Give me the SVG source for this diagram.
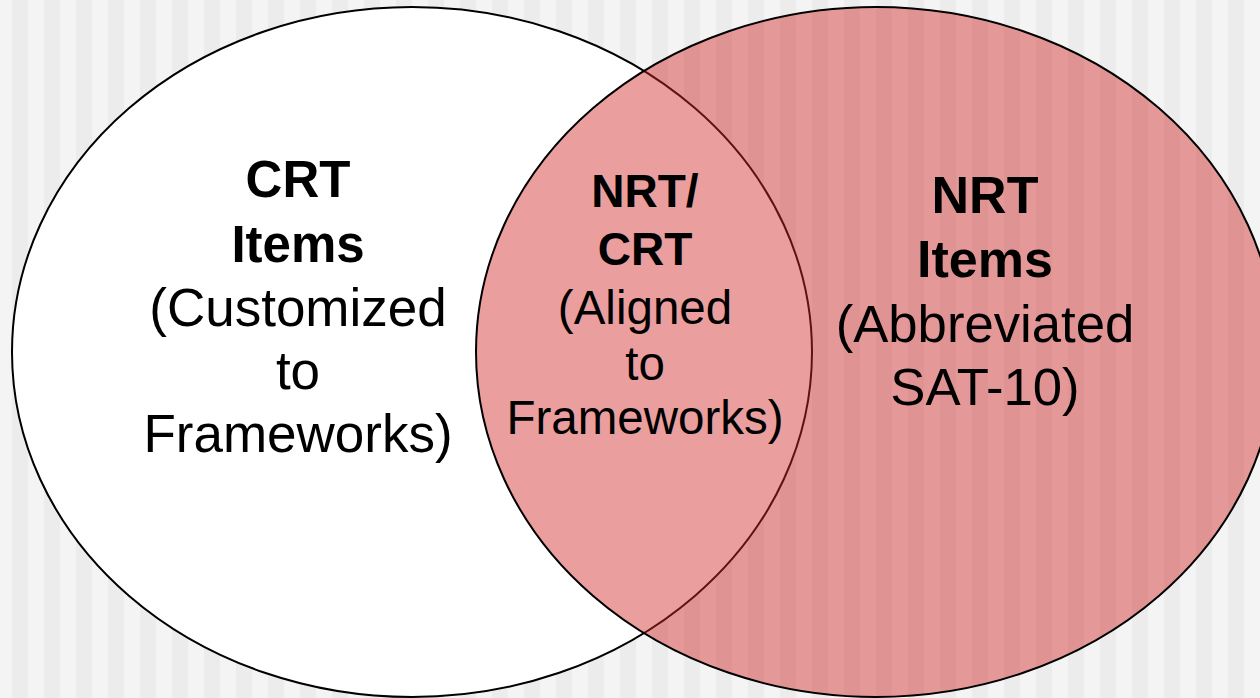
<svg xmlns="http://www.w3.org/2000/svg" width="1260" height="698" viewBox="0 0 1260 698">
<defs>
<pattern id="stripes" x="12" y="0" width="32" height="698" patternUnits="userSpaceOnUse">
<rect x="0" y="0" width="32" height="698" fill="#f4f4f4"/>
<rect x="0" y="0" width="16" height="698" fill="#ececec"/>
</pattern>
<style>
.t{font-family:"Liberation Sans",Arial,sans-serif;fill:#000;text-anchor:middle}
.b{font-weight:bold}
</style>
</defs>
<rect width="1260" height="698" fill="url(#stripes)"/>
<g id="crt">
<ellipse cx="412" cy="352" rx="400" ry="345" fill="#ffffff" stroke="#000" stroke-width="2"/>
</g>
<g id="nrt">
<ellipse cx="876" cy="352" rx="400" ry="345" fill="#d22828" fill-opacity="0.45" stroke="#000" stroke-width="2"/>
</g>
<g id="crt-label">
<text x="298" y="197" class="t b" font-size="51">CRT</text>
<text x="298" y="262" class="t b" font-size="51">Items</text>
<text x="298" y="326" class="t" font-size="53">(Customized</text>
<text x="298" y="389" class="t" font-size="53">to</text>
<text x="298" y="452" class="t" font-size="53">Frameworks)</text>
</g>
<g id="overlap-label">
<text x="645" y="207" class="t b" font-size="46">NRT/</text>
<text x="645" y="265" class="t b" font-size="46">CRT</text>
<text x="645" y="324" class="t" font-size="47.5">(Aligned</text>
<text x="645" y="380" class="t" font-size="47.5">to</text>
<text x="645" y="434" class="t" font-size="47.5">Frameworks)</text>
</g>
<g id="nrt-label">
<text x="985" y="213" class="t b" font-size="52">NRT</text>
<text x="985" y="277" class="t b" font-size="52">Items</text>
<text x="985" y="342" class="t" font-size="52.7">(Abbreviated</text>
<text x="985" y="405" class="t" font-size="52.7">SAT-10)</text>
</g>
<g id="connectors"/>
</svg>
